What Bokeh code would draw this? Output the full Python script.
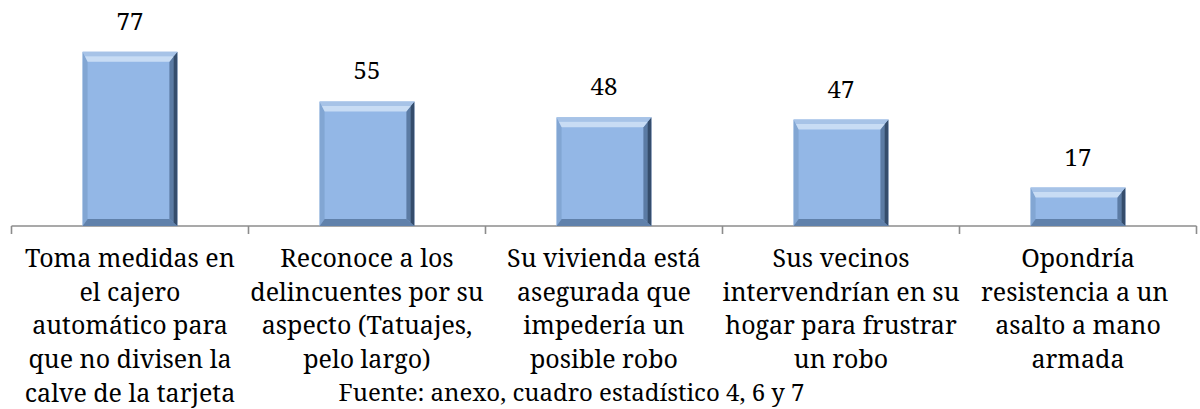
from bokeh.plotting import figure
from bokeh.models import Range1d, Label
from bokeh.core.properties import value
from bokeh.embed import file_html
from bokeh.resources import INLINE

# ---------------- data ----------------
categories = [
    "Toma medidas en\nel cajero\nautomático para\nque no divisen la\ncalve de la tarjeta",
    "Reconoce a los\ndelincuentes por su\naspecto (Tatuajes,\npelo largo)",
    "Su vivienda está\nasegurada que\nimpedería un\nposible robo",
    "Sus vecinos\nintervendrían en su\nhogar para frustrar\nun robo",
    "Opondría\nresistencia  a un\nasalto a mano\narmada",
]
values = [77, 55, 48, 47, 17]
value_labels = [str(v) for v in values]
footer = "Fuente: anexo,  cuadro estadístico 4, 6 y 7"

# ---------------- layout ----------------
W, H = 1200, 409
PX_X = 237.0      # pixels per category
PX_Y = 2.264      # pixels per unit
X0 = 129.5        # canvas x of first category centre
Y0 = 225.5        # canvas y of the baseline
BAR_W = 0.4
FAMILY = "Noto Serif"
FONT = value(FAMILY)

xs = list(range(len(categories)))

p = figure(width=W, height=H,
           x_range=Range1d(-X0 / PX_X, (W - X0) / PX_X),
           y_range=Range1d(-(H - Y0) / PX_Y, Y0 / PX_Y),
           output_backend="svg", toolbar_location=None,
           x_axis_location=None, y_axis_location=None,
           min_border=0)
p.grid.visible = False
p.outline_line_color = None
p.background_fill_color = "white"
p.border_fill_color = "white"

# axis line and ticks (drawn through the data scales)
n = len(categories)
p.segment(x0=[-0.5], y0=[0], x1=[n - 0.5], y1=[0], line_color="#8C8C8C", line_width=1.6)
tick_x = [k - 0.5 for k in range(n + 1)]
p.segment(x0=tick_x, y0=[0] * len(tick_x), x1=tick_x, y1=[-8 / PX_Y] * len(tick_x),
          line_color="#8C8C8C", line_width=1.6)

# bar faces
p.vbar(x=xs, top=values, bottom=0, width=BAR_W, fill_color="#93B7E6", line_color=None)

# bevel edges computed from data
bt, bb, bl, br = 10 / PX_Y, 7 / PX_Y, 5 / PX_X, 8 / PX_X

top_o, top_i, bot, left, right_o, right_i = [], [], [], [], [], []
for x, v in zip(xs, values):
    L, R, T, B = x - BAR_W / 2, x + BAR_W / 2, v, 0
    mt = bt * 0.45
    mr = br * 0.5
    top_o.append(([L, R, R - br * 0.45, L + bl * 0.45], [T, T, T - mt, T - mt]))
    top_i.append(([L + bl * 0.45, R - br * 0.45, R - br, L + bl], [T - mt, T - mt, T - bt, T - bt]))
    bot.append(([L, R, R - br, L + bl], [B, B, B + bb, B + bb]))
    left.append(([L, L, L + bl, L + bl], [B, T, T - bt, B + bb]))
    right_o.append(([R, R, R - mr, R - mr], [B, T, T - mt, B + bb * 0.5]))
    right_i.append(([R - mr, R - mr, R - br, R - br], [B + bb * 0.5, T - mt, T - bt, B + bb]))

for polys, col in [(left, "#82A6D3"), (bot, "#6081AB"), (right_i, "#5B7BA4"),
                   (right_o, "#354D6C"), (top_o, "#A7C3E7"), (top_i, "#C8DCF4")]:
    p.patches(xs=[q[0] for q in polys], ys=[q[1] for q in polys],
              fill_color=col, line_color=None)

# value labels
p.text(x=xs, y=values, text=value_labels, text_font=FONT, text_font_size="24px",
       text_align="center", text_baseline="top", y_offset=-39, text_color="black")

# category labels
p.text(x=xs, y=[0] * n, text=categories, text_font=FONT, text_font_size="25px",
       text_align="center", text_baseline="top", y_offset=14, text_line_height=0.99,
       text_color="black")

# footer (source note)
p.add_layout(Label(x=(338 - X0) / PX_X, y=-(391 - Y0) / PX_Y, text=footer, text_font=FAMILY,
                   text_font_size="24px", text_align="left", text_baseline="alphabetic",
                   text_color="black"))

open("out.html", "w").write(file_html(p, INLINE))
